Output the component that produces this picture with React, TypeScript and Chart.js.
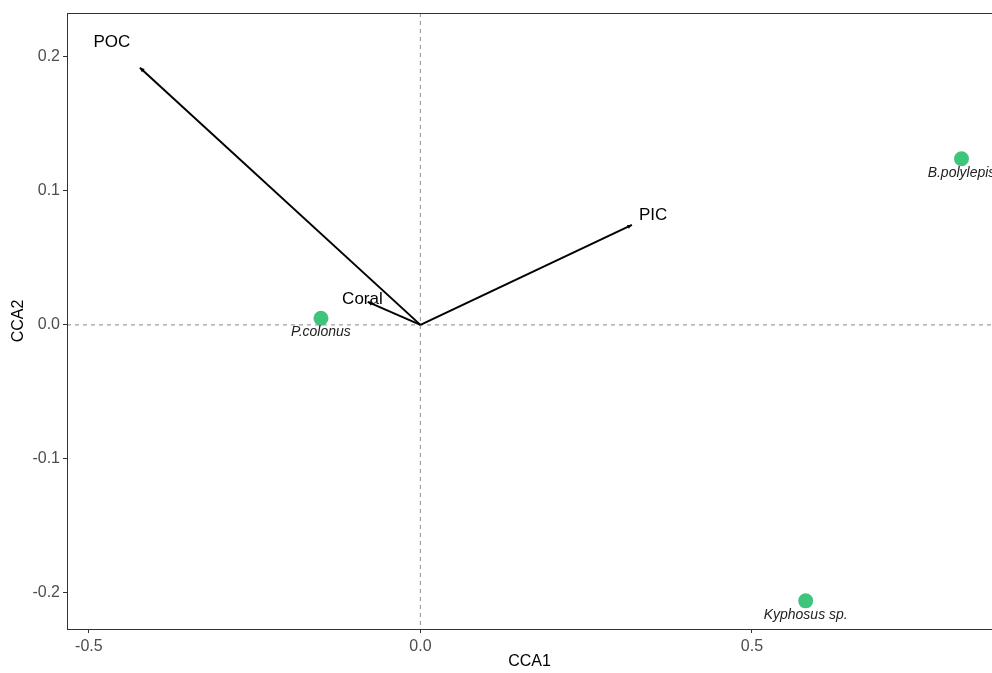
import React, { useEffect, useRef } from "react";
import { Chart, registerables } from "chart.js";

Chart.register(...registerables);

const species = ["P.colonus", "B.polylepis", "Kyphosus sp."];
const speciesCCA1 = [-0.15, 0.816, 0.581];
const speciesCCA2 = [0.005, 0.124, -0.206];

const envVars = ["POC", "PIC", "Coral"];
const envCCA1 = [-0.423, 0.319, -0.0795];
const envCCA2 = [0.192, 0.0746, 0.0172];

const xTicks = [-0.5, 0, 0.5];
const yTicks = [-0.2, -0.1, 0, 0.1, 0.2];

const xRange = [-0.533, 0.862];
const yRange = [-0.227, 0.2328];

const FONT = "'Liberation Sans', Arial, sans-serif";

const panelPlugin = {
  id: "panel",
  beforeDatasetsDraw(chart: any) {
    const { ctx, chartArea, scales } = chart;
    const x0 = scales.x.getPixelForValue(0);
    const y0 = scales.y.getPixelForValue(0);
    ctx.save();
    ctx.strokeStyle = "#a0a0a0";
    ctx.lineWidth = 1.2;
    ctx.setLineDash([4, 4]);
    ctx.beginPath();
    ctx.moveTo(chartArea.left, y0);
    ctx.lineTo(chartArea.right + 5, y0);
    ctx.moveTo(x0, chartArea.top);
    ctx.lineTo(x0, chartArea.bottom);
    ctx.stroke();
    ctx.restore();
  },
  afterDatasetsDraw(chart: any) {
    const { ctx, chartArea, scales } = chart;
    const sx = scales.x;
    const sy = scales.y;
    ctx.save();
    ctx.fillStyle = "#000";
    envVars.forEach((_, i) => {
      const ox = sx.getPixelForValue(0);
      const oy = sy.getPixelForValue(0);
      const ex = sx.getPixelForValue(envCCA1[i]);
      const ey = sy.getPixelForValue(envCCA2[i]);
      const a = Math.atan2(ey - oy, ex - ox);
      const L = 5;
      const w = 0.45;
      ctx.beginPath();
      ctx.moveTo(ex, ey);
      ctx.lineTo(ex - L * Math.cos(a - w), ey - L * Math.sin(a - w));
      ctx.lineTo(ex - L * Math.cos(a + w), ey - L * Math.sin(a + w));
      ctx.closePath();
      ctx.fill();
    });
    ctx.font = `17px ${FONT}`;
    ctx.textAlign = "center";
    ctx.textBaseline = "middle";
    ctx.fillStyle = "#000";
    envVars.forEach((name, i) => {
      ctx.fillText(
        name,
        sx.getPixelForValue(envCCA1[i] * 1.1),
        sy.getPixelForValue(envCCA2[i] * 1.1)
      );
    });
    ctx.font = `italic 14px ${FONT}`;
    ctx.fillStyle = "#222";
    species.forEach((name, i) => {
      ctx.fillText(
        name,
        sx.getPixelForValue(speciesCCA1[i]),
        sy.getPixelForValue(speciesCCA2[i]) + 14
      );
    });
    ctx.strokeStyle = "#333";
    ctx.lineWidth = 1;
    ctx.strokeRect(
      chartArea.left + 0.5,
      chartArea.top + 0.5,
      chartArea.right - chartArea.left + 20,
      chartArea.bottom - chartArea.top
    );
    ctx.restore();
  },
};

export default function App() {
  const ref = useRef<HTMLCanvasElement | null>(null);
  useEffect(() => {
    document.body.style.margin = "0";
    if (!ref.current) return;
    const arrowDatasets = envVars.map((name, i) => ({
      type: "line" as const,
      label: name,
      data: [
        { x: 0, y: 0 },
        { x: envCCA1[i], y: envCCA2[i] },
      ],
      borderColor: "#000",
      borderWidth: 2,
      pointRadius: 0,
      showLine: true,
      fill: false,
    }));
    const chart = new Chart(ref.current, {
      type: "scatter",
      data: {
        datasets: [
          ...arrowDatasets,
          {
            type: "scatter" as const,
            label: "species",
            data: species.map((_, i) => ({ x: speciesCCA1[i], y: speciesCCA2[i] })),
            backgroundColor: "#3fc47b",
            borderWidth: 0,
            pointRadius: 7.5,
          },
        ] as any,
      },
      options: {
        responsive: false,
        animation: false,
        layout: { autoPadding: false, padding: { top: 13, left: 0, right: 0, bottom: 0 } },
        plugins: { legend: { display: false }, tooltip: { enabled: false } },
        scales: {
          x: {
            type: "linear",
            min: xRange[0],
            max: xRange[1],
            afterBuildTicks: (s: any) => {
              s.ticks = xTicks.map((v) => ({ value: v }));
            },
            afterFit: (s: any) => {
              s.height = 44;
              s.paddingLeft = 0;
              s.paddingRight = 0;
            },
            grid: {
              drawOnChartArea: false,
              drawTicks: true,
              tickLength: 4,
              tickColor: "#333",
            },
            border: { display: false },
            ticks: {
              padding: 4,
              color: "#4d4d4d",
              font: { family: FONT, size: 16 },
              maxRotation: 0,
              callback: (v: any) => Number(v).toFixed(1),
            },
            title: {
              display: true,
              text: "CCA1",
              color: "#000",
              font: { family: FONT, size: 16 },
              padding: { top: 0, bottom: 2 },
            },
          },
          y: {
            type: "linear",
            min: yRange[0],
            max: yRange[1],
            afterBuildTicks: (s: any) => {
              s.ticks = yTicks.map((v) => ({ value: v }));
            },
            afterFit: (s: any) => {
              s.width = 67;
              s.paddingTop = 0;
              s.paddingBottom = 0;
            },
            grid: {
              drawOnChartArea: false,
              drawTicks: true,
              tickLength: 4,
              tickColor: "#333",
            },
            border: { display: false },
            ticks: {
              padding: 3,
              color: "#4d4d4d",
              font: { family: FONT, size: 16 },
              callback: (v: any) => Number(v).toFixed(1),
            },
            title: {
              display: true,
              text: "CCA2",
              color: "#000",
              font: { family: FONT, size: 16 },
              padding: { top: 9, bottom: 0 },
            },
          },
        },
      },
      plugins: [panelPlugin],
    });
    return () => chart.destroy();
  }, []);
  return (
    <div style={{ position: "absolute", left: 0, top: 0 }}>
      <canvas ref={ref} width={992} height={673} />
    </div>
  );
}
